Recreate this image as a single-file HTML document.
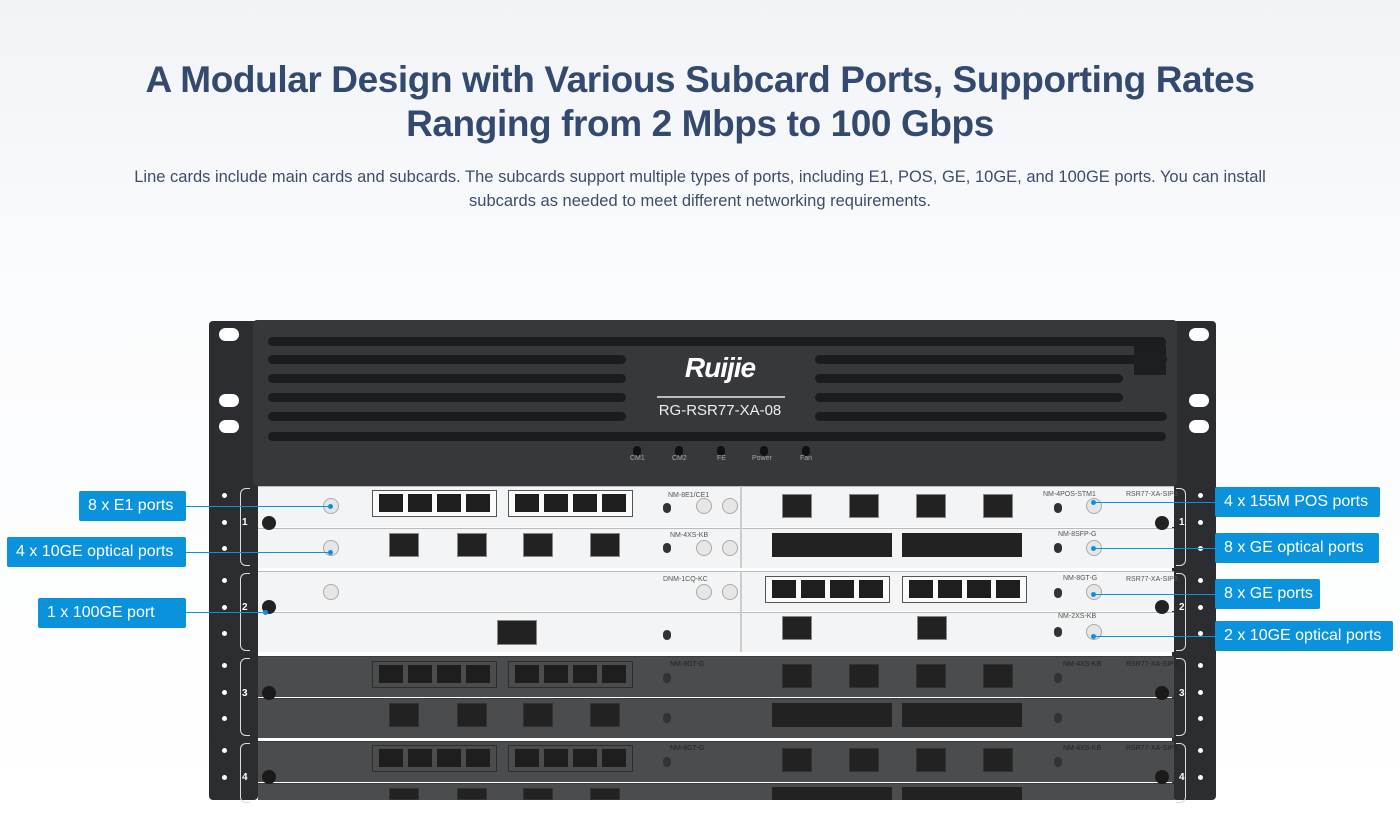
<!DOCTYPE html>
<html><head><meta charset="utf-8"><style>
*{margin:0;padding:0;box-sizing:border-box}
body{width:1400px;height:819px;overflow:hidden;background:linear-gradient(#f1f3f7,#fbfcfd 300px,#fff);font-family:"Liberation Sans",sans-serif;position:relative}
h1{position:absolute;top:58px;left:0;width:1400px;text-align:center;color:#34496e;font-size:37px;line-height:44px;letter-spacing:-0.4px;font-weight:bold}
p.d{position:absolute;top:165px;left:100px;width:1200px;text-align:center;color:#3d4d6a;font-size:16.5px;line-height:24px}
.a{position:absolute}
.post{background:#2b2d31;border-radius:4px}
.hole{position:absolute;width:20px;height:13px;background:#fff;border-radius:7px}
.dot{position:absolute;width:5px;height:5px;background:#fff;border-radius:50%}
.vent{position:absolute;height:9px;background:#1b1c1e;border-radius:5px}
.row{position:absolute;background:#f3f4f5;border-top:1px solid #bbb}
.dk .row{background:#4b4c4e;border-top:1px solid #3a3b3d}
.rg{position:absolute;height:27px;border:1px solid #555;background:#fafafa}
.dk .rg{background:#4b4c4e;border-color:#2e2e2e}
.rj{position:absolute;top:3px;width:24px;height:18px;background:#1e1e1e}
.sfp{position:absolute;width:30px;height:24px;background:#222;border:1px solid #888}
.knob{position:absolute;width:16px;height:16px;border-radius:50%;background:#e6e6e6;border:1px solid #aaa}
.dk .knob{background:#555;border-color:#3d3d3d}
.led{position:absolute;width:8px;height:10px;border-radius:4px;background:#333}
.lbl{position:absolute;background:#0a93dc;color:#fff;font-size:16px;height:30px;line-height:30px;padding:0 9px;border-radius:2px;white-space:nowrap}
.ln{position:absolute;height:1px;background:#0a93dc}
.pt{position:absolute;width:5px;height:5px;border-radius:50%;background:#0a93dc}
.t{position:absolute;font-size:7px;color:#555}
.dk .t{color:#222}
.br{position:absolute;width:10px;border:1px solid #ddd;border-right:none;border-radius:6px 0 0 6px}
.brr{position:absolute;width:10px;border:1px solid #ddd;border-left:none;border-radius:0 6px 6px 0}
</style></head><body>
<h1>A Modular Design with Various Subcard Ports, Supporting Rates<br>Ranging from 2 Mbps to 100 Gbps</h1>
<p class="d">Line cards include main cards and subcards. The subcards support multiple types of ports, including E1, POS, GE, 10GE, and 100GE ports. You can install<br>subcards as needed to meet different networking requirements.</p>

<div class="a post" style="left:209px;top:321px;width:49px;height:479px"></div>
<div class="a post" style="left:1172px;top:321px;width:44px;height:479px"></div>
<div class="hole" style="left:219px;top:328px"></div><div class="hole" style="left:219px;top:394px"></div><div class="hole" style="left:219px;top:420px"></div>
<div class="hole" style="left:1189px;top:328px"></div><div class="hole" style="left:1189px;top:394px"></div><div class="hole" style="left:1189px;top:420px"></div>
<div class="dot" style="left:222px;top:493px"></div><div class="dot" style="left:222px;top:520px"></div><div class="dot" style="left:222px;top:546px"></div>
<div class="dot" style="left:222px;top:578px"></div><div class="dot" style="left:222px;top:605px"></div><div class="dot" style="left:222px;top:631px"></div>
<div class="dot" style="left:222px;top:663px"></div><div class="dot" style="left:222px;top:690px"></div><div class="dot" style="left:222px;top:716px"></div>
<div class="dot" style="left:222px;top:748px"></div><div class="dot" style="left:222px;top:775px"></div>
<div class="dot" style="left:1198px;top:493px"></div><div class="dot" style="left:1198px;top:520px"></div><div class="dot" style="left:1198px;top:546px"></div>
<div class="dot" style="left:1198px;top:578px"></div><div class="dot" style="left:1198px;top:605px"></div><div class="dot" style="left:1198px;top:631px"></div>
<div class="dot" style="left:1198px;top:663px"></div><div class="dot" style="left:1198px;top:690px"></div><div class="dot" style="left:1198px;top:716px"></div>
<div class="dot" style="left:1198px;top:748px"></div><div class="dot" style="left:1198px;top:775px"></div>
<div class="br" style="left:240px;top:488px;height:78px"></div><div class="br" style="left:240px;top:573px;height:78px"></div><div class="br" style="left:240px;top:658px;height:78px"></div><div class="br" style="left:240px;top:743px;height:60px"></div>
<div class="brr" style="left:1176px;top:488px;height:78px"></div><div class="brr" style="left:1176px;top:573px;height:78px"></div><div class="brr" style="left:1176px;top:658px;height:78px"></div><div class="brr" style="left:1176px;top:743px;height:60px"></div>

<div class="a" style="left:253px;top:320px;width:924px;height:166px;background:#36383c;border-radius:4px"></div>
<div class="vent" style="left:268px;top:337px;width:898px"></div>
<div class="vent" style="left:268px;top:355px;width:358px"></div><div class="vent" style="left:815px;top:355px;width:352px"></div>
<div class="vent" style="left:268px;top:374px;width:358px"></div><div class="vent" style="left:815px;top:374px;width:308px"></div>
<div class="vent" style="left:268px;top:393px;width:358px"></div><div class="vent" style="left:815px;top:393px;width:308px"></div>
<div class="vent" style="left:268px;top:412px;width:358px"></div><div class="vent" style="left:815px;top:412px;width:352px"></div>
<div class="vent" style="left:268px;top:432px;width:898px"></div>
<div class="a" style="left:1134px;top:345px;width:32px;height:30px;background:#1d1e20"></div>
<div class="a" style="left:660px;top:352px;width:120px;text-align:center;color:#fff;font-size:28px;font-weight:bold;font-style:italic;letter-spacing:-1px">Ruijie</div>
<div class="a" style="left:657px;top:396px;width:128px;height:2px;background:#bbb"></div>
<div class="a" style="left:640px;top:402px;width:160px;text-align:center;color:#eee;font-size:15px">RG-RSR77-XA-08</div>
<div class="led" style="left:633px;top:446px;background:#111"></div><div class="led" style="left:675px;top:446px;background:#111"></div><div class="led" style="left:717px;top:446px;background:#111"></div><div class="led" style="left:760px;top:446px;background:#111"></div><div class="led" style="left:802px;top:446px;background:#111"></div>
<div class="t" style="left:630px;top:455px;color:#aaa">CM1</div><div class="t" style="left:672px;top:455px;color:#aaa">CM2</div><div class="t" style="left:717px;top:455px;color:#aaa">FE</div><div class="t" style="left:752px;top:455px;color:#aaa">Power</div><div class="t" style="left:800px;top:455px;color:#aaa">Fan</div>

<div>
<div class="row" style="left:258px;top:486px;width:916px;height:41px"></div>
<div class="row" style="left:258px;top:528px;width:916px;height:40px"></div>
<div class="a" style="left:740px;top:486px;width:2px;height:82px;background:#ccc"></div>
<div class="rg" style="left:372px;top:490px;width:125px"><div class="rj" style="left:6px"></div><div class="rj" style="left:35px"></div><div class="rj" style="left:64px"></div><div class="rj" style="left:93px"></div></div>
<div class="rg" style="left:508px;top:490px;width:125px"><div class="rj" style="left:6px"></div><div class="rj" style="left:35px"></div><div class="rj" style="left:64px"></div><div class="rj" style="left:93px"></div></div>
<div class="sfp" style="left:782px;top:494px"></div><div class="sfp" style="left:849px;top:494px"></div><div class="sfp" style="left:916px;top:494px"></div><div class="sfp" style="left:983px;top:494px"></div>
<div class="sfp" style="left:389px;top:533px"></div><div class="sfp" style="left:457px;top:533px"></div><div class="sfp" style="left:523px;top:533px"></div><div class="sfp" style="left:590px;top:533px"></div>
<div class="a" style="left:772px;top:533px;width:120px;height:24px;background:#222"></div><div class="a" style="left:902px;top:533px;width:120px;height:24px;background:#222"></div>
<div class="knob" style="left:323px;top:498px"></div><div class="knob" style="left:323px;top:540px"></div><div class="knob" style="left:696px;top:498px"></div><div class="knob" style="left:722px;top:498px"></div><div class="knob" style="left:696px;top:540px"></div><div class="knob" style="left:722px;top:540px"></div><div class="knob" style="left:1086px;top:498px"></div><div class="knob" style="left:1086px;top:540px"></div>
<div class="led" style="left:663px;top:503px"></div><div class="led" style="left:663px;top:543px"></div><div class="led" style="left:1054px;top:503px"></div><div class="led" style="left:1054px;top:543px"></div>
<div class="t" style="left:668px;top:492px">NM-8E1/CE1</div><div class="t" style="left:1043px;top:491px">NM-4POS-STM1</div><div class="t" style="left:670px;top:532px">NM-4XS-KB</div><div class="t" style="left:1058px;top:531px">NM-8SFP-G</div><div class="t" style="left:1126px;top:491px">RSR77-XA-SIP3</div>
<div class="a" style="left:262px;top:516px;width:14px;height:14px;border-radius:50%;background:#222"></div>
<div class="a" style="left:1155px;top:516px;width:14px;height:14px;border-radius:50%;background:#222"></div>
</div>

<div>
<div class="row" style="left:258px;top:571px;width:916px;height:40px"></div>
<div class="row" style="left:258px;top:612px;width:916px;height:40px"></div>
<div class="a" style="left:740px;top:571px;width:2px;height:81px;background:#ccc"></div>
<div class="rg" style="left:765px;top:576px;width:125px"><div class="rj" style="left:6px"></div><div class="rj" style="left:35px"></div><div class="rj" style="left:64px"></div><div class="rj" style="left:93px"></div></div>
<div class="rg" style="left:902px;top:576px;width:125px"><div class="rj" style="left:6px"></div><div class="rj" style="left:35px"></div><div class="rj" style="left:64px"></div><div class="rj" style="left:93px"></div></div>
<div class="a" style="left:497px;top:620px;width:40px;height:25px;background:#222;border:1px solid #888"></div>
<div class="sfp" style="left:782px;top:616px"></div><div class="sfp" style="left:917px;top:616px"></div>
<div class="knob" style="left:323px;top:584px"></div><div class="knob" style="left:696px;top:584px"></div><div class="knob" style="left:722px;top:584px"></div><div class="knob" style="left:1086px;top:584px"></div><div class="knob" style="left:1086px;top:624px"></div>
<div class="led" style="left:663px;top:630px"></div><div class="led" style="left:1054px;top:588px"></div><div class="led" style="left:1054px;top:627px"></div>
<div class="t" style="left:663px;top:576px">DNM-1CQ-KC</div><div class="t" style="left:1063px;top:575px">NM-8GT-G</div><div class="t" style="left:1058px;top:613px">NM-2XS-KB</div><div class="t" style="left:1126px;top:576px">RSR77-XA-SIP3</div>
<div class="a" style="left:262px;top:600px;width:14px;height:14px;border-radius:50%;background:#222"></div>
<div class="a" style="left:1155px;top:600px;width:14px;height:14px;border-radius:50%;background:#222"></div>
</div>

<div class="dk">
<div class="row" style="left:258px;top:656px;width:916px;height:41px"></div>
<div class="row" style="left:258px;top:698px;width:916px;height:40px"></div>
<div class="row" style="left:258px;top:741px;width:916px;height:41px"></div>
<div class="row" style="left:258px;top:783px;width:916px;height:17px"></div>
<div class="rg" style="left:372px;top:661px;width:125px"><div class="rj" style="left:6px"></div><div class="rj" style="left:35px"></div><div class="rj" style="left:64px"></div><div class="rj" style="left:93px"></div></div>
<div class="rg" style="left:508px;top:661px;width:125px"><div class="rj" style="left:6px"></div><div class="rj" style="left:35px"></div><div class="rj" style="left:64px"></div><div class="rj" style="left:93px"></div></div>
<div class="rg" style="left:372px;top:745px;width:125px"><div class="rj" style="left:6px"></div><div class="rj" style="left:35px"></div><div class="rj" style="left:64px"></div><div class="rj" style="left:93px"></div></div>
<div class="rg" style="left:508px;top:745px;width:125px"><div class="rj" style="left:6px"></div><div class="rj" style="left:35px"></div><div class="rj" style="left:64px"></div><div class="rj" style="left:93px"></div></div>
<div class="sfp" style="left:782px;top:664px;border-color:#333"></div><div class="sfp" style="left:849px;top:664px;border-color:#333"></div><div class="sfp" style="left:916px;top:664px;border-color:#333"></div><div class="sfp" style="left:983px;top:664px;border-color:#333"></div>
<div class="sfp" style="left:782px;top:748px;border-color:#333"></div><div class="sfp" style="left:849px;top:748px;border-color:#333"></div><div class="sfp" style="left:916px;top:748px;border-color:#333"></div><div class="sfp" style="left:983px;top:748px;border-color:#333"></div>
<div class="sfp" style="left:389px;top:703px;border-color:#333"></div><div class="sfp" style="left:457px;top:703px;border-color:#333"></div><div class="sfp" style="left:523px;top:703px;border-color:#333"></div><div class="sfp" style="left:590px;top:703px;border-color:#333"></div>
<div class="sfp" style="left:389px;top:788px;border-color:#333;height:12px"></div><div class="sfp" style="left:457px;top:788px;border-color:#333;height:12px"></div><div class="sfp" style="left:523px;top:788px;border-color:#333;height:12px"></div><div class="sfp" style="left:590px;top:788px;border-color:#333;height:12px"></div>
<div class="a" style="left:772px;top:703px;width:120px;height:24px;background:#222"></div><div class="a" style="left:902px;top:703px;width:120px;height:24px;background:#222"></div>
<div class="a" style="left:772px;top:787px;width:120px;height:13px;background:#222"></div><div class="a" style="left:902px;top:787px;width:120px;height:13px;background:#222"></div>
<div class="led" style="left:663px;top:673px"></div><div class="led" style="left:663px;top:713px"></div><div class="led" style="left:1054px;top:673px"></div><div class="led" style="left:1054px;top:713px"></div>
<div class="led" style="left:663px;top:757px"></div><div class="led" style="left:1054px;top:757px"></div>
<div class="t" style="left:670px;top:661px">NM-8GT-G</div><div class="t" style="left:1063px;top:661px">NM-4XS-KB</div><div class="t" style="left:1126px;top:661px">RSR77-XA-SIP3</div>
<div class="t" style="left:670px;top:745px">NM-8GT-G</div><div class="t" style="left:1063px;top:745px">NM-4XS-KB</div><div class="t" style="left:1126px;top:745px">RSR77-XA-SIP3</div>
<div class="a" style="left:262px;top:686px;width:14px;height:14px;border-radius:50%;background:#1a1a1a"></div>
<div class="a" style="left:1155px;top:686px;width:14px;height:14px;border-radius:50%;background:#1a1a1a"></div>
<div class="a" style="left:262px;top:770px;width:14px;height:14px;border-radius:50%;background:#1a1a1a"></div>
<div class="a" style="left:1155px;top:770px;width:14px;height:14px;border-radius:50%;background:#1a1a1a"></div>
</div>

<div class="a" style="left:242px;top:517px;color:#fff;font-size:10px;font-weight:bold">1</div>
<div class="a" style="left:242px;top:602px;color:#fff;font-size:10px;font-weight:bold">2</div>
<div class="a" style="left:242px;top:688px;color:#fff;font-size:10px;font-weight:bold">3</div>
<div class="a" style="left:242px;top:772px;color:#fff;font-size:10px;font-weight:bold">4</div>
<div class="a" style="left:1179px;top:517px;color:#fff;font-size:10px;font-weight:bold">1</div>
<div class="a" style="left:1179px;top:602px;color:#fff;font-size:10px;font-weight:bold">2</div>
<div class="a" style="left:1179px;top:688px;color:#fff;font-size:10px;font-weight:bold">3</div>
<div class="a" style="left:1179px;top:772px;color:#fff;font-size:10px;font-weight:bold">4</div>

<div class="lbl" style="left:79px;top:491px;width:107px">8 x E1 ports</div>
<div class="ln" style="left:186px;top:506px;width:145px"></div><div class="pt" style="left:328px;top:504px"></div>
<div class="lbl" style="left:7px;top:537px;width:179px">4 x 10GE optical ports</div>
<div class="ln" style="left:186px;top:552px;width:145px"></div><div class="pt" style="left:328px;top:550px"></div>
<div class="lbl" style="left:38px;top:598px;width:148px">1 x 100GE port</div>
<div class="ln" style="left:186px;top:612px;width:80px"></div><div class="pt" style="left:263px;top:610px"></div>
<div class="lbl" style="left:1215px;top:487px;width:165px">4 x 155M POS ports</div>
<div class="ln" style="left:1093px;top:502px;width:122px"></div><div class="pt" style="left:1091px;top:500px"></div>
<div class="lbl" style="left:1215px;top:533px;width:164px">8 x GE optical ports</div>
<div class="ln" style="left:1093px;top:548px;width:122px"></div><div class="pt" style="left:1091px;top:546px"></div>
<div class="lbl" style="left:1215px;top:579px;width:105px">8 x GE ports</div>
<div class="ln" style="left:1093px;top:594px;width:122px"></div><div class="pt" style="left:1091px;top:592px"></div>
<div class="lbl" style="left:1215px;top:621px;width:178px">2 x 10GE optical ports</div>
<div class="ln" style="left:1093px;top:636px;width:122px"></div><div class="pt" style="left:1091px;top:634px"></div>
</body></html>
